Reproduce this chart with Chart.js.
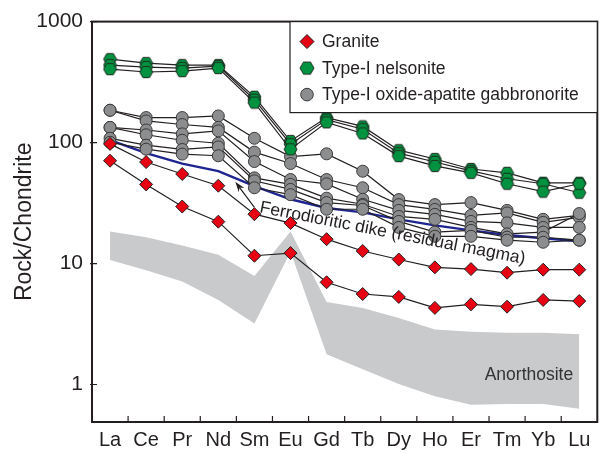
<!DOCTYPE html>
<html>
<head>
<meta charset="utf-8">
<script src="https://cdn.jsdelivr.net/npm/chart.js@4.4.1/dist/chart.umd.min.js"></script>
<style>
html,body{margin:0;padding:0;background:#fff;}
#c{display:block;}
</style>
</head>
<body>
<canvas id="c" width="605" height="454"></canvas>
<script>
// REE chondrite-normalized patterns
var elements = ['La','Ce','Pr','Nd','Sm','Eu','Gd','Tb','Dy','Ho','Er','Tm','Yb','Lu'];
var yTicks = [1, 10, 100, 1000];

var granite1 = [97.5, 69, 55, 44, 25.6, 21.6, 15.9, 12.7, 10.8, 9.3, 9.0, 8.4, 8.9, 8.9];
var granite2 = [70.8, 45.1, 29.6, 22.2, 11.6, 12.2, 7.0, 5.6, 5.3, 4.3, 4.6, 4.4, 5.0, 4.9];

var nelsonite1 = [489, 454, 437, 437, 239, 103, 161, 136, 86.5, 73.1, 60.5, 56.2, 46.5, 46.5];
var nelsonite2 = [437, 421, 413, 429, 226, 97, 155, 129, 81.8, 69.1, 58.3, 50.2, 45.7, 38.5];
var nelsonite3 = [405, 383, 390, 413, 214, 88, 147, 119, 77.3, 64.1, 56.2, 45.7, 39.3, 45.7];

var gabbro1 = [185, 161, 161, 166, 108.5, 76.6, 80.7, 58, 33.8, 30.7, 31.9, 27.5, 23.2, 25.0];
var gabbro2 = [185, 151, 141, 133.5, 83.4, 67.1, 49.5, 42.3, 30.7, 28.0, 25.0, 26.2, 21.9, 24.1];
var gabbro3 = [133.5, 127, 118, 125, 69.7, 49.5, 45.6, 34.0, 27.5, 25.5, 22.3, 21.7, 19.9, 19.9];
var gabbro4 = [133.5, 116, 104.5, 98.8, 51.1, 45.1, 34.7, 30.9, 24.5, 23.2, 19.9, 17.6, 18.2, 25.9];
var gabbro5 = [108.5, 95.1, 87.7, 92.1, 48.3, 41.0, 31.9, 30.2, 22.3, 18.2, 18.8, 16.5, 16.5, 15.6];
var gabbro6 = [100.6, 88.2, 80.3, 77.8, 42.3, 37.1, 28.1, 28.1, 19.9, 16.8, 16.8, 15.6, 15.0, 15.6];

var dike = [105, 81.8, 66.9, 58, 43.7, 34, 28.8, 26.5, 23.2, 20.7, 18.8, 17.2, 16.2, 15.3];

var anorthositeTop = [18.4, 16.5, 14.1, 11.8, 7.9, 18.4, 4.8, 4.3, 3.55, 2.85, 2.73, 2.68, 2.68, 2.6];
var anorthositeBottom = [10.7, 8.8, 7.1, 5.0, 3.2, 12.5, 1.78, 1.34, 1.01, 0.8, 0.68, 0.69, 0.69, 0.63];

var FONT = '"Liberation Sans", Arial, sans-serif';
var INK = '#231f20';
var RED = '#e60012', GREEN = '#00923f', GREY = '#8c8d8f';

function hexagon(r, fill) {
  var c = document.createElement('canvas');
  c.width = Math.ceil(2 * r + 2); c.height = Math.ceil(1.732 * r + 2);
  var g = c.getContext('2d');
  g.translate(c.width / 2, c.height / 2);
  g.beginPath();
  for (var k = 0; k < 6; k++) {
    var a = k * Math.PI / 3;
    g.lineTo(r * Math.cos(a), r * Math.sin(a));
  }
  g.closePath();
  g.fillStyle = fill; g.fill();
  g.lineWidth = 1; g.strokeStyle = '#1d2a1f'; g.stroke();
  return c;
}
var hexPt = hexagon(6.5, GREEN);
var hexLeg = hexagon(7, GREEN);

function series(data, style, order) {
  var d = {data: data, borderColor: INK, borderWidth: 1.2, tension: 0, fill: false, order: order};
  if (style === 'granite') { d.pointStyle = 'rectRot'; d.pointRadius = 6.5; d.pointBackgroundColor = RED; d.pointBorderColor = INK; d.pointBorderWidth = 1; }
  if (style === 'nelsonite') { d.pointStyle = hexPt; d.pointRadius = 6.5; }
  if (style === 'gabbro') { d.pointStyle = 'circle'; d.pointRadius = 6; d.pointBackgroundColor = GREY; d.pointBorderColor = '#3a3a3a'; d.pointBorderWidth = 1; }
  return d;
}

var datasets = [
  {data: anorthositeTop, borderWidth: 0, pointRadius: 0, fill: '+1', backgroundColor: '#c9cacc', order: 20},
  {data: anorthositeBottom, borderWidth: 0, pointRadius: 0, fill: false, order: 21},
  {data: dike, borderColor: '#1f2590', borderWidth: 2.4, pointRadius: 0, fill: false, order: 9}
];
[gabbro6, gabbro5, gabbro4, gabbro3, gabbro2, gabbro1].forEach(function (g) { datasets.push(series(g, 'gabbro', 6)); });
[nelsonite3, nelsonite2, nelsonite1].forEach(function (n) { datasets.push(series(n, 'nelsonite', 4)); });
[granite2, granite1].forEach(function (g) { datasets.push(series(g, 'granite', 2)); });

var decor = {
  id: 'decor',
  afterDatasetsDraw: function (chart) {
    var ctx = chart.ctx, a = chart.chartArea;
    var xs = chart.scales.x, ys = chart.scales.y;
    var step = xs.getPixelForValue(1) - xs.getPixelForValue(0);
    ctx.save();

    // annotations
    ctx.font = '17.5px ' + FONT;
    ctx.textAlign = 'left'; ctx.textBaseline = 'alphabetic';
    ctx.fillStyle = '#333';
    ctx.fillText('Anorthosite', xs.getPixelForValue(9) + 1.38 * step, ys.getPixelForValue(1.1));

    ctx.save();
    ctx.translate(xs.getPixelForValue(4) + 4.5, ys.getPixelForValue(26.5));
    ctx.rotate(11 * Math.PI / 180);
    ctx.fillStyle = INK;
    ctx.fillText('Ferrodioritic dike (residual magma)', 0, 0);
    ctx.restore();

    // arrow to dike line
    var tx = xs.getPixelForValue(4) - 0.53 * step, ty = ys.getPixelForValue(47.4);
    var fx = xs.getPixelForValue(4), fy = ys.getPixelForValue(29.1);
    var ang = Math.atan2(ty - fy, tx - fx);
    ctx.strokeStyle = INK; ctx.lineWidth = 1.2;
    ctx.beginPath(); ctx.moveTo(fx, fy); ctx.lineTo(tx - 6 * Math.cos(ang), ty - 6 * Math.sin(ang)); ctx.stroke();
    ctx.fillStyle = INK;
    ctx.beginPath();
    ctx.moveTo(tx, ty);
    ctx.lineTo(tx - 11 * Math.cos(ang - 0.32), ty - 11 * Math.sin(ang - 0.32));
    ctx.lineTo(tx - 7 * Math.cos(ang), ty - 7 * Math.sin(ang));
    ctx.lineTo(tx - 11 * Math.cos(ang + 0.32), ty - 11 * Math.sin(ang + 0.32));
    ctx.closePath(); ctx.fill();

    // frame + inward ticks
    ctx.strokeStyle = INK; ctx.lineWidth = 2;
    ctx.strokeRect(a.left, a.top, a.right - a.left, a.bottom - a.top);
    ctx.lineWidth = 1.2;
    ctx.beginPath();
    for (var i = 1; i < elements.length; i++) {
      var bx = xs.getPixelForValue(i) - step / 2;
      ctx.moveTo(bx, a.bottom); ctx.lineTo(bx, a.bottom - 6);
    }
    yTicks.forEach(function (v) {
      var py = ys.getPixelForValue(v);
      ctx.moveTo(a.left - 2, py); ctx.lineTo(a.left + 5, py);
    });
    ctx.stroke();

    // legend box
    var lx = 290, ly = a.top, lw = a.right - lx, lh = 91;
    ctx.fillStyle = '#fff';
    ctx.fillRect(lx, ly, lw, lh);
    ctx.lineWidth = 1.2; ctx.strokeStyle = INK;
    ctx.strokeRect(lx, ly, lw, lh);
    var rows = [
      {label: 'Granite', kind: 'granite'},
      {label: 'Type-I nelsonite', kind: 'nelsonite'},
      {label: 'Type-I oxide-apatite gabbronorite', kind: 'gabbro'}
    ];
    ctx.font = '17.5px ' + FONT;
    ctx.textBaseline = 'middle';
    rows.forEach(function (r, k) {
      var cy = ly + 20 + k * 26.5, cx = lx + 17;
      if (r.kind === 'granite') {
        ctx.beginPath();
        ctx.moveTo(cx, cy - 7); ctx.lineTo(cx + 7, cy); ctx.lineTo(cx, cy + 7); ctx.lineTo(cx - 7, cy); ctx.closePath();
        ctx.fillStyle = RED; ctx.fill(); ctx.lineWidth = 1; ctx.strokeStyle = INK; ctx.stroke();
      } else if (r.kind === 'nelsonite') {
        ctx.drawImage(hexLeg, cx - hexLeg.width / 2, cy - hexLeg.height / 2);
      } else {
        ctx.beginPath(); ctx.arc(cx, cy, 6.3, 0, 2 * Math.PI);
        ctx.fillStyle = GREY; ctx.fill(); ctx.lineWidth = 1; ctx.strokeStyle = '#3a3a3a'; ctx.stroke();
      }
      ctx.fillStyle = INK;
      ctx.fillText(r.label, lx + 32, cy + 1);
    });
    ctx.restore();
  }
};

new Chart(document.getElementById('c'), {
  type: 'line',
  data: {labels: elements, datasets: datasets},
  options: {
    responsive: false,
    animation: false,
    layout: {padding: {top: 17, right: 1, left: 0, bottom: 0}},
    plugins: {legend: {display: false}, tooltip: {enabled: false}},
    scales: {
      x: {
        type: 'category',
        offset: true,
        grid: {display: false, drawTicks: false},
        border: {display: false},
        ticks: {color: INK, font: {family: FONT, size: 20}, padding: 6, autoSkip: false, maxRotation: 0},
        afterFit: function (s) { s.height = 32; }
      },
      y: {
        type: 'logarithmic',
        min: 0.49,
        max: 1000,
        grid: {display: false, drawTicks: false},
        border: {display: false},
        afterBuildTicks: function (s) { s.ticks = yTicks.map(function (v) { return {value: v}; }); },
        ticks: {color: INK, font: {family: FONT, size: 21}, padding: 9, callback: function (v) { return String(v); }},
        title: {display: true, text: 'Rock/Chondrite', color: INK, font: {family: FONT, size: 23}, padding: {top: 11, bottom: 0}},
        afterFit: function (s) { s.width = 92; }
      }
    }
  },
  plugins: [decor]
});
</script>
</body>
</html>
